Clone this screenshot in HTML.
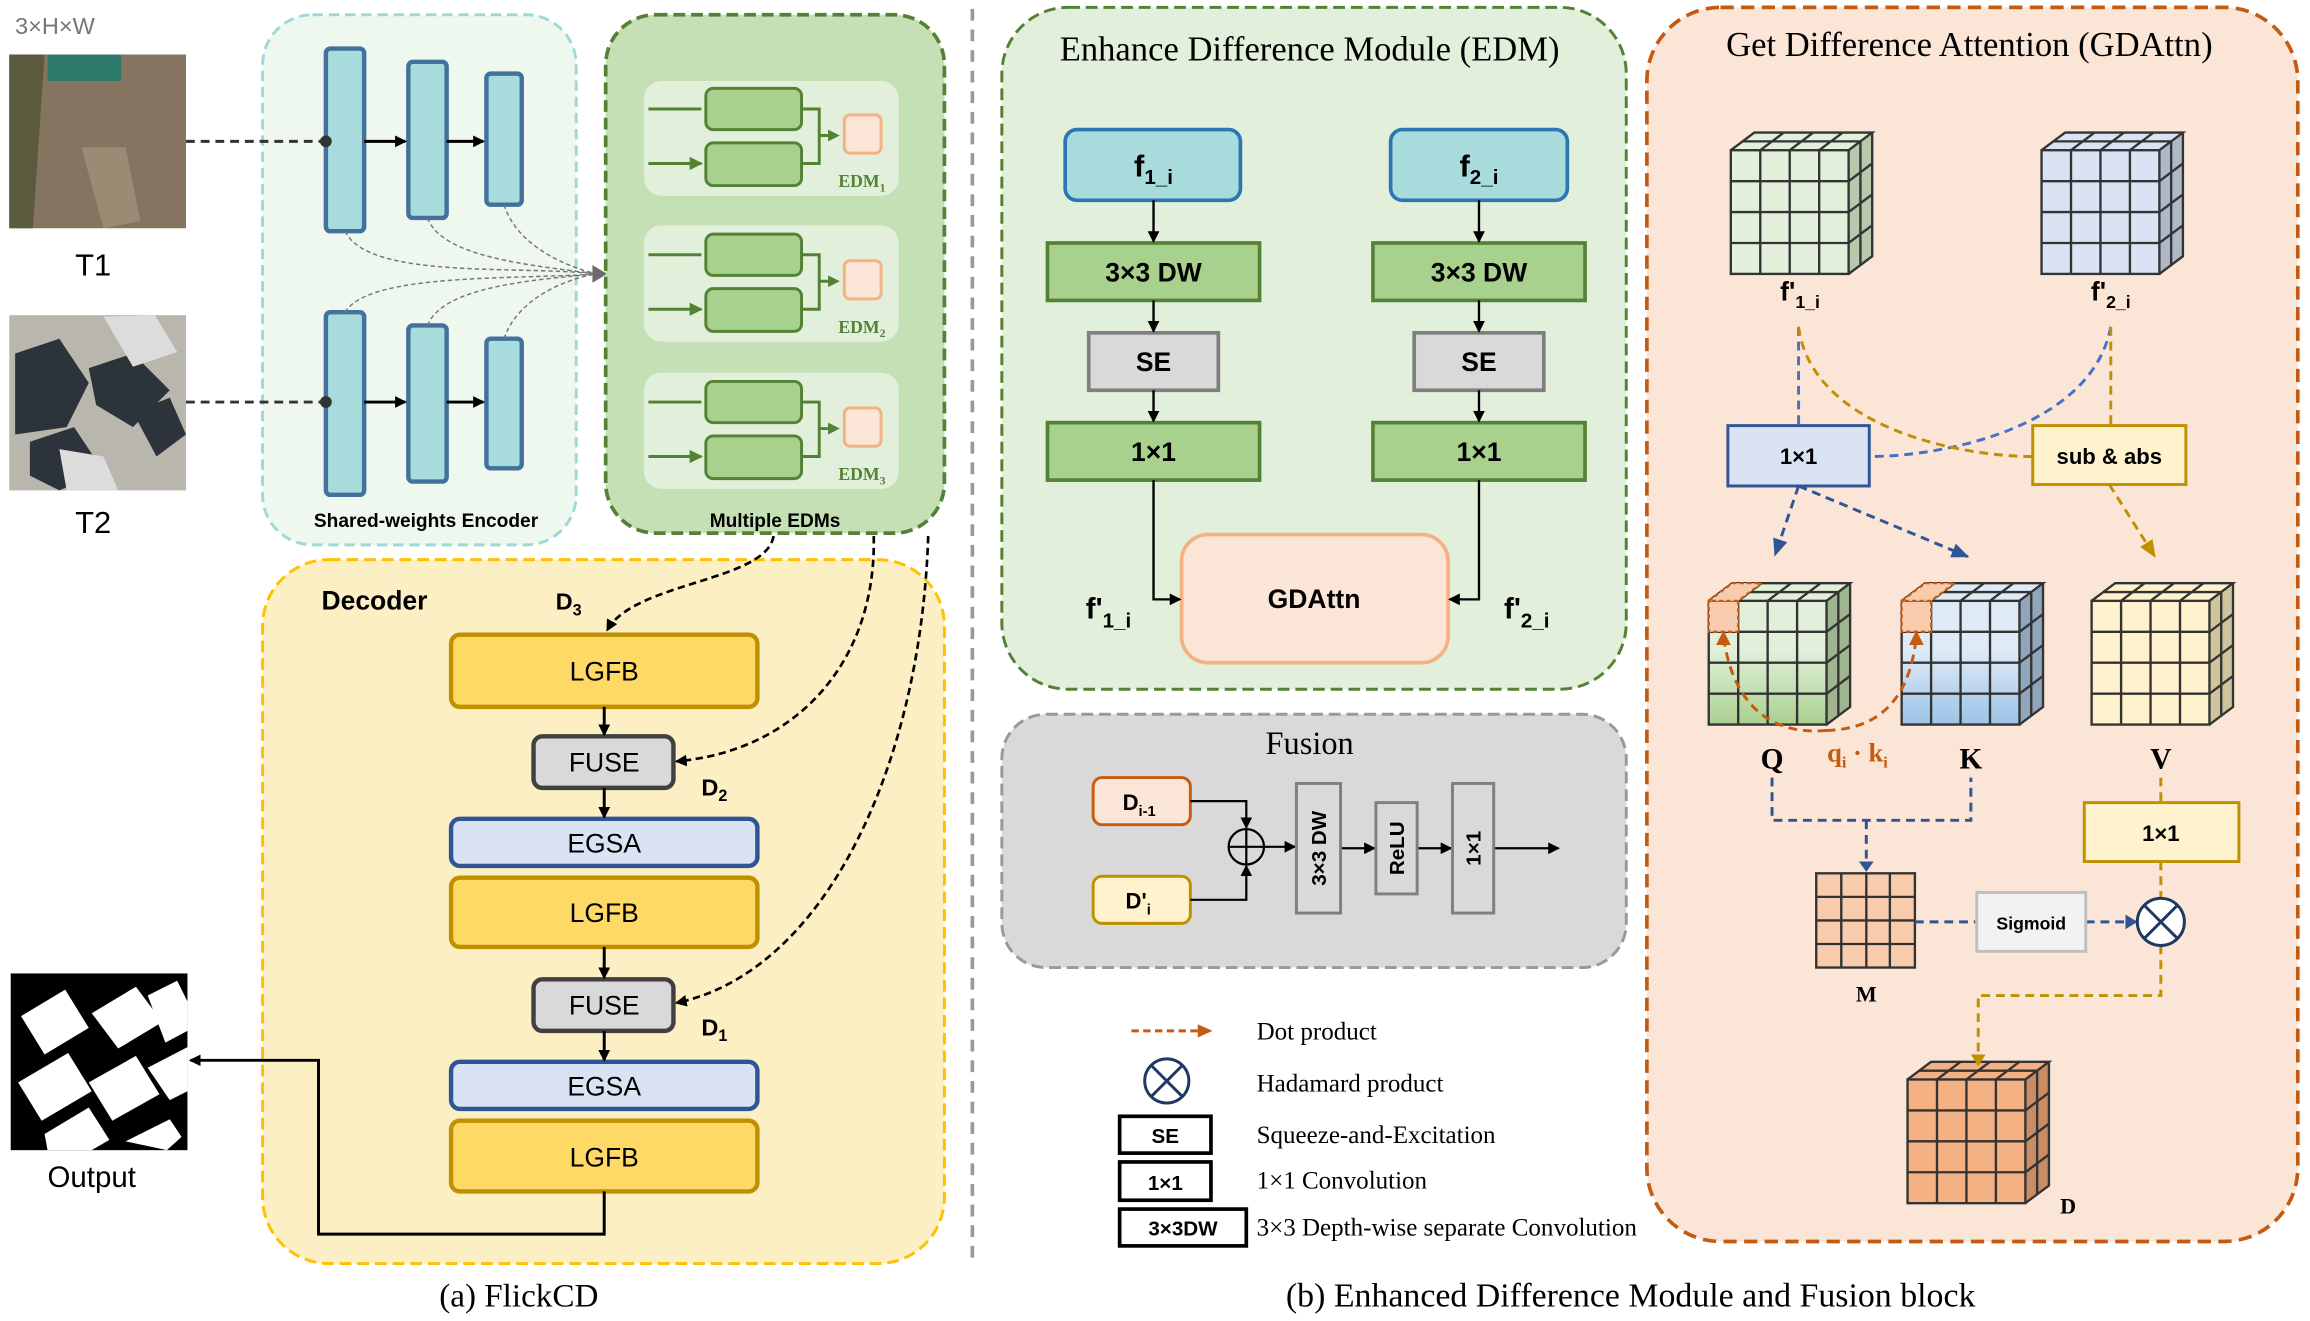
<!DOCTYPE html>
<html><head><meta charset="utf-8"><style>
html,body{margin:0;padding:0;background:#fff}
svg{display:block}
.s{font-family:"Liberation Sans",sans-serif}
.r{font-family:"Liberation Serif",serif}
</style></head><body>
<svg width="2310" height="1321" viewBox="0 0 1568 897" xmlns="http://www.w3.org/2000/svg">
<defs>
<marker id="ab" markerWidth="8" markerHeight="8" refX="7" refY="4" orient="auto" markerUnits="userSpaceOnUse"><path d="M0,0 L8,4 L0,8 z" fill="#000"/></marker>
<marker id="agr" markerWidth="9" markerHeight="9" refX="8" refY="4.5" orient="auto" markerUnits="userSpaceOnUse"><path d="M0,0 L9,4.5 L0,9 z" fill="#548235"/></marker>
<marker id="abl" markerWidth="12" markerHeight="10" refX="11" refY="5" orient="auto" markerUnits="userSpaceOnUse"><path d="M0,0 L12,5 L0,10 z" fill="#2f5597"/></marker>
<marker id="agd" markerWidth="12" markerHeight="10" refX="11" refY="5" orient="auto" markerUnits="userSpaceOnUse"><path d="M0,0 L12,5 L0,10 z" fill="#bf9000"/></marker>
<marker id="aor" markerWidth="10" markerHeight="9" refX="9" refY="4.5" orient="auto" markerUnits="userSpaceOnUse"><path d="M0,0 L10,4.5 L0,9 z" fill="#c55a11"/></marker>
<g id="cg" fill="none" stroke="#333" stroke-width="1.6">
<rect x="0" y="0" width="80" height="84"/>
<path d="M20,0V84M40,0V84M60,0V84M0,21H80M0,42H80M0,63H80"/>
<path d="M0,0L16,-12H96L80,0M20,0L36,-12M40,0L56,-12M60,0L76,-12M8,-6H88"/>
<path d="M96,-12V72L80,84M80,21L96,9M80,42L96,30M80,63L96,51M88,-6V78"/>
</g>
<linearGradient id="gq" x1="0" y1="0" x2="0" y2="1"><stop offset="0.4" stop-color="#e2efda"/><stop offset="1" stop-color="#a9d18e"/></linearGradient>
<linearGradient id="gk" x1="0" y1="0" x2="0" y2="1"><stop offset="0.4" stop-color="#deebf7"/><stop offset="1" stop-color="#9dc3e6"/></linearGradient>
</defs>

<!-- LEFT: inputs -->
<text x="37" y="23" class="s" font-size="16" fill="#777" text-anchor="middle">3×H×W</text>
<rect x="6" y="37" width="120" height="118" fill="#857560"/>
<path d="M6,37 L30,37 L22,155 L6,155z" fill="#5b5a3c"/>
<path d="M32,37 h50 v18 h-50z" fill="#2e7a6a"/>
<path d="M55,100 l30,0 l10,50 l-25,5z" fill="#9a8c74"/>
<rect x="6" y="214" width="120" height="119" fill="#b9b6ae"/>
<path d="M10,240 l30,-10 l20,30 l-15,30 l-35,5z M60,250 l30,-10 l25,25 l-25,25 l-25,-15z M20,300 l30,-10 l20,30 l-30,13 l-20,-10z M90,280 l25,-10 l11,25 l-20,15z" fill="#2d333a"/>
<path d="M70,215 l35,-1 l15,25 l-30,10z M40,305 l30,5 l10,23 l-35,0z" fill="#dcdcdc"/>
<text x="63" y="187" class="s" font-size="21" text-anchor="middle">T1</text>
<text x="63" y="362" class="s" font-size="21" text-anchor="middle">T2</text>
<rect x="7" y="661" width="120" height="120" fill="#000"/>
<g fill="#fff">
<path d="M14,690 l30,-18 l16,26 l-30,18z"/><path d="M62,688 l30,-18 l18,24 l-30,18z"/><path d="M100,676 l20,-10 l7,14 v20 l-15,8z"/>
<path d="M12,735 l34,-20 l16,26 l-34,20z"/><path d="M60,735 l32,-18 l16,26 l-32,18z"/><path d="M100,725 l27,-14 v30 l-12,6z"/>
<path d="M30,770 l30,-18 l14,22 l-12,7 h-30z"/><path d="M85,775 l30,-15 l8,12 l-10,9z"/>
</g>
<text x="62" y="806" class="s" font-size="20" text-anchor="middle">Output</text>

<!-- Encoder -->
<rect x="178" y="10" width="213" height="360" rx="34" fill="#eef8ef" stroke="#9fd8d8" stroke-width="2" stroke-dasharray="7,4"/>
<g fill="#a8dcdc" stroke="#41719c" stroke-width="3">
<rect x="221" y="33" width="26" height="124" rx="3"/><rect x="277" y="42" width="26" height="106" rx="3"/><rect x="330" y="50" width="24" height="89" rx="3"/>
<rect x="221" y="212" width="26" height="124" rx="3"/><rect x="277" y="221" width="26" height="106" rx="3"/><rect x="330" y="230" width="24" height="88" rx="3"/>
</g>
<g stroke="#333" stroke-width="2" stroke-dasharray="6,4" fill="none"><path d="M126,96H221"/><path d="M126,273H221"/></g>
<circle cx="221" cy="96" r="4" fill="#333"/><circle cx="221" cy="273" r="4" fill="#333"/>
<g stroke="#000" stroke-width="2" marker-end="url(#ab)"><path d="M247,96H275"/><path d="M303,96H328"/><path d="M247,273H275"/><path d="M303,273H328"/></g>
<g stroke="#777" stroke-width="1" stroke-dasharray="3,2" fill="none">
<path d="M234,157 C250,190 350,180 405,186"/><path d="M290,148 C300,175 360,180 405,186"/><path d="M342,139 C350,165 380,180 405,186"/>
<path d="M234,212 C250,185 350,190 405,186"/><path d="M290,221 C300,195 360,190 405,186"/><path d="M342,230 C350,205 380,190 405,186"/>
</g>
<path d="M402,180 L412,186 L402,192z" fill="#6b6b6b"/>
<text x="289" y="358" class="s" font-size="13" font-weight="bold" text-anchor="middle">Shared-weights Encoder</text>

<!-- Multiple EDMs -->
<rect x="411" y="10" width="230" height="352" rx="34" fill="#c5e0b4" stroke="#548235" stroke-width="2.5" stroke-dasharray="8,4"/>
<rect x="437" y="55" width="173" height="78" rx="12" fill="#e2efda"/>
<rect x="437" y="153" width="173" height="79" rx="12" fill="#e2efda"/>
<rect x="437" y="253" width="173" height="79" rx="12" fill="#e2efda"/>
<g id="edm">
<rect x="479" y="60" width="65" height="28" rx="5" fill="#a9d18e" stroke="#548235" stroke-width="2"/>
<rect x="479" y="97" width="65" height="29" rx="5" fill="#a9d18e" stroke="#548235" stroke-width="2"/>
<path d="M440,74H476M440,111H476" stroke="#548235" stroke-width="2" marker-end="url(#agr)"/>
<path d="M544,74H556V111H544M556,92H567" stroke="#548235" stroke-width="2" fill="none"/>
<path d="M562,88 L570,92 L562,96z" fill="#548235"/>
<rect x="573" y="78" width="25" height="26" rx="4" fill="#fbe5d6" stroke="#f4b183" stroke-width="2"/>
</g>
<use href="#edm" y="99"/><use href="#edm" y="199"/>
<g class="r" font-size="12" fill="#548235" font-weight="bold">
<text x="569" y="127">EDM<tspan font-size="8" dy="3">1</tspan></text>
<text x="569" y="226">EDM<tspan font-size="8" dy="3">2</tspan></text>
<text x="569" y="326">EDM<tspan font-size="8" dy="3">3</tspan></text>
</g>
<text x="526" y="358" class="s" font-size="13" font-weight="bold" text-anchor="middle">Multiple EDMs</text>

<!-- Decoder -->
<rect x="178" y="380" width="463" height="478" rx="45" fill="#fbefc3" stroke="#ffc000" stroke-width="2" stroke-dasharray="8,4"/>
<text x="218" y="414" class="s" font-size="18" font-weight="bold">Decoder</text>
<text x="377" y="414" class="s" font-size="16" font-weight="bold">D<tspan font-size="11" dy="4">3</tspan></text>
<text x="476" y="540" class="s" font-size="16" font-weight="bold">D<tspan font-size="11" dy="4">2</tspan></text>
<text x="476" y="703" class="s" font-size="16" font-weight="bold">D<tspan font-size="11" dy="4">1</tspan></text>
<g stroke-width="3">
<rect x="306" y="431" width="208" height="49" rx="6" fill="#ffd966" stroke="#bf9000"/>
<rect x="306" y="596" width="208" height="47" rx="6" fill="#ffd966" stroke="#bf9000"/>
<rect x="306" y="761" width="208" height="48" rx="6" fill="#ffd966" stroke="#bf9000"/>
<rect x="362" y="500" width="95" height="35" rx="6" fill="#d9d9d9" stroke="#404040"/>
<rect x="362" y="665" width="95" height="35" rx="6" fill="#d9d9d9" stroke="#404040"/>
<rect x="306" y="556" width="208" height="32" rx="6" fill="#dae3f3" stroke="#2f5597"/>
<rect x="306" y="721" width="208" height="32" rx="6" fill="#dae3f3" stroke="#2f5597"/>
</g>
<g class="s" font-size="18" text-anchor="middle">
<text x="410" y="462">LGFB</text><text x="410" y="626">LGFB</text><text x="410" y="792">LGFB</text>
<text x="410" y="524">FUSE</text><text x="410" y="689">FUSE</text>
<text x="410" y="579">EGSA</text><text x="410" y="744">EGSA</text>
</g>
<g stroke="#000" stroke-width="2" marker-end="url(#ab)">
<path d="M410,480V499"/><path d="M410,535V555"/><path d="M410,643V664"/><path d="M410,700V720"/>
</g>
<path d="M410,809V838H216V720H129" stroke="#000" stroke-width="2" fill="none" marker-end="url(#ab)"/>
<g stroke="#000" stroke-width="1.8" stroke-dasharray="5,3" fill="none" marker-end="url(#ab)">
<path d="M525,364 C520,395 430,395 412,428"/>
<path d="M593,364 C595,450 540,510 459,517"/>
<path d="M630,364 C625,520 560,660 459,681"/>
</g>

<path d="M660,6V860" stroke="#999" stroke-width="2.5" stroke-dasharray="8,6"/>

<!-- EDM -->
<rect x="680" y="5" width="424" height="463" rx="45" fill="#e2efda" stroke="#548235" stroke-width="2" stroke-dasharray="8,4"/>
<text x="889" y="41" class="r" font-size="23.5" text-anchor="middle">Enhance Difference Module (EDM)</text>
<g stroke-width="2.5">
<rect x="723" y="88" width="119" height="48" rx="8" fill="#a8dcdc" stroke="#2e75b6"/>
<rect x="944" y="88" width="120" height="48" rx="8" fill="#a8dcdc" stroke="#2e75b6"/>
<rect x="711" y="165" width="144" height="39" fill="#a9d18e" stroke="#548235"/>
<rect x="932" y="165" width="144" height="39" fill="#a9d18e" stroke="#548235"/>
<rect x="739" y="226" width="88" height="39" fill="#d9d9d9" stroke="#7f7f7f"/>
<rect x="960" y="226" width="88" height="39" fill="#d9d9d9" stroke="#7f7f7f"/>
<rect x="711" y="287" width="144" height="39" fill="#a9d18e" stroke="#548235"/>
<rect x="932" y="287" width="144" height="39" fill="#a9d18e" stroke="#548235"/>
<rect x="802" y="363" width="181" height="87" rx="18" fill="#fbe5d6" stroke="#f4b183"/>
</g>
<g class="s" font-weight="bold" text-anchor="middle" font-size="18">
<text x="783" y="120" font-size="21">f<tspan font-size="14" dy="5">1_i</tspan></text>
<text x="1004" y="120" font-size="21">f<tspan font-size="14" dy="5">2_i</tspan></text>
<text x="783" y="191">3×3 DW</text><text x="1004" y="191">3×3 DW</text>
<text x="783" y="252">SE</text><text x="1004" y="252">SE</text>
<text x="783" y="313">1×1</text><text x="1004" y="313">1×1</text>
<text x="892" y="413">GDAttn</text>
</g>
<text x="737" y="420" class="s" font-weight="bold" font-size="20">f'<tspan font-size="14" dy="6">1_i</tspan></text>
<text x="1021" y="420" class="s" font-weight="bold" font-size="20">f'<tspan font-size="14" dy="6">2_i</tspan></text>
<g stroke="#000" stroke-width="1.6" fill="none" marker-end="url(#ab)">
<path d="M783,136V164"/><path d="M783,204V225"/><path d="M783,265V286"/>
<path d="M1004,136V164"/><path d="M1004,204V225"/><path d="M1004,265V286"/>
<path d="M783,326V407H801"/><path d="M1004,326V407H984"/>
</g>

<!-- Fusion -->
<rect x="680" y="485" width="424" height="172" rx="30" fill="#d9d9d9" stroke="#999" stroke-width="2" stroke-dasharray="8,4"/>
<text x="889" y="512" class="r" font-size="22" text-anchor="middle">Fusion</text>
<rect x="742" y="528" width="66" height="32" rx="6" fill="#fbe5d6" stroke="#c55a11" stroke-width="2"/>
<rect x="742" y="595" width="66" height="32" rx="6" fill="#fff2cc" stroke="#bf9000" stroke-width="2"/>
<text x="762" y="550" class="s" font-size="15" font-weight="bold">D<tspan font-size="10" dy="4">i-1</tspan></text>
<text x="764" y="617" class="s" font-size="15" font-weight="bold">D'<tspan font-size="10" dy="4">i</tspan></text>
<circle cx="846" cy="575" r="12" fill="none" stroke="#000" stroke-width="1.5"/>
<path d="M834,575H858M846,563V587" stroke="#000" stroke-width="1.5"/>
<g stroke="#000" stroke-width="1.5" fill="none" marker-end="url(#ab)">
<path d="M808,544H846V562"/><path d="M808,611H846V588"/><path d="M858,575H879"/><path d="M910,576H933"/><path d="M962,576H985"/><path d="M1014,576H1058"/>
</g>
<g fill="#d9d9d9" stroke="#7f7f7f" stroke-width="2">
<rect x="880" y="532" width="30" height="88"/><rect x="934" y="545" width="28" height="62"/><rect x="986" y="532" width="28" height="88"/>
</g>
<g class="s" font-weight="bold" font-size="14" text-anchor="middle">
<text transform="translate(900,576) rotate(-90)">3×3 DW</text>
<text transform="translate(953,576) rotate(-90)">ReLU</text>
<text transform="translate(1005,576) rotate(-90)">1×1</text>
</g>

<!-- Legend -->
<path d="M768,700H822" stroke="#c55a11" stroke-width="2" stroke-dasharray="5,3" marker-end="url(#aor)"/>
<circle cx="792" cy="734" r="15" fill="none" stroke="#1f3864" stroke-width="2"/>
<path d="M781,723L803,745M803,723L781,745" stroke="#1f3864" stroke-width="2"/>
<g fill="#fff" stroke="#000" stroke-width="2.5">
<rect x="760" y="758" width="62" height="25"/><rect x="760" y="789" width="62" height="26"/><rect x="760" y="821" width="86" height="25"/>
</g>
<g class="s" font-weight="bold" font-size="14" text-anchor="middle">
<text x="791" y="776">SE</text><text x="791" y="808">1×1</text><text x="803" y="839">3×3DW</text>
</g>
<g class="r" font-size="17">
<text x="853" y="706">Dot product</text><text x="853" y="741">Hadamard product</text>
<text x="853" y="776">Squeeze-and-Excitation</text><text x="853" y="807">1×1 Convolution</text>
<text x="853" y="839">3×3 Depth-wise separate Convolution</text>
</g>

<!-- GDAttn -->
<rect x="1118" y="5" width="442" height="838" rx="50" fill="#fbe5d6" stroke="#c55a11" stroke-width="2.5" stroke-dasharray="9,5"/>
<text x="1337" y="38" class="r" font-size="23.5" text-anchor="middle">Get Difference Attention (GDAttn)</text>
<g transform="translate(1175,102)">
<rect width="80" height="84" fill="#e2efda"/><path d="M0,0L16,-12H96L80,0z" fill="#e2efda"/><path d="M80,0L96,-12V72L80,84z" fill="#b7c9ab"/>
<use href="#cg"/></g>
<g transform="translate(1386,102)">
<rect width="80" height="84" fill="#dae3f3"/><path d="M0,0L16,-12H96L80,0z" fill="#dae3f3"/><path d="M80,0L96,-12V72L80,84z" fill="#aeb8c8"/>
<use href="#cg"/></g>
<g transform="translate(1160,408)">
<rect width="80" height="84" fill="url(#gq)"/><path d="M0,0L16,-12H96L80,0z" fill="#e2efda"/><path d="M80,0L96,-12V72L80,84z" fill="#9fb58f"/>
<use href="#cg"/>
<rect width="20" height="21" fill="#f8cbad" stroke="#c55a11" stroke-width="1.5" stroke-dasharray="3,2"/>
<path d="M0,0L16,-12H36L20,0z" fill="#f8cbad" stroke="#c55a11" stroke-width="1.5" stroke-dasharray="3,2"/></g>
<g transform="translate(1291,408)">
<rect width="80" height="84" fill="url(#gk)"/><path d="M0,0L16,-12H96L80,0z" fill="#deebf7"/><path d="M80,0L96,-12V72L80,84z" fill="#8fa6bd"/>
<use href="#cg"/>
<rect width="20" height="21" fill="#f8cbad" stroke="#c55a11" stroke-width="1.5" stroke-dasharray="3,2"/>
<path d="M0,0L16,-12H36L20,0z" fill="#f8cbad" stroke="#c55a11" stroke-width="1.5" stroke-dasharray="3,2"/></g>
<g transform="translate(1420,408)">
<rect width="80" height="84" fill="#fff2cc"/><path d="M0,0L16,-12H96L80,0z" fill="#fff2cc"/><path d="M80,0L96,-12V72L80,84z" fill="#cfc59d"/>
<use href="#cg"/></g>
<g transform="translate(1295,733)">
<rect width="80" height="84" fill="#f4b183"/><path d="M0,0L16,-12H96L80,0z" fill="#f4b183"/><path d="M80,0L96,-12V72L80,84z" fill="#c98d66"/>
<use href="#cg"/></g>
<g fill="#f8cbad" stroke="#333" stroke-width="1.6">
<rect x="1233" y="593" width="67" height="64"/>
<path d="M1250,593V657M1267,593V657M1283,593V657M1233,609H1300M1233,625H1300M1233,641H1300" fill="none"/>
</g>
<g class="s" font-weight="bold" font-size="18" text-anchor="middle">
<text x="1222" y="204">f'<tspan font-size="12" dy="5">1_i</tspan></text>
<text x="1433" y="204">f'<tspan font-size="12" dy="5">2_i</tspan></text>
</g>
<rect x="1173" y="289" width="96" height="41" fill="#dae3f3" stroke="#2f5597" stroke-width="2"/>
<rect x="1380" y="289" width="104" height="40" fill="#fff2cc" stroke="#bf9000" stroke-width="2"/>
<text x="1221" y="315" class="s" font-weight="bold" font-size="15" text-anchor="middle">1×1</text>
<text x="1432" y="315" class="s" font-weight="bold" font-size="15" text-anchor="middle">sub &amp; abs</text>
<g fill="none" stroke-width="2" stroke-dasharray="6,4">
<path d="M1221,222V289" stroke="#4472c4"/>
<path d="M1433,222C1420,290 1320,310 1269,310" stroke="#4472c4"/>
<path d="M1221,222C1230,290 1330,310 1380,310" stroke="#bf9000"/>
<path d="M1433,222V289" stroke="#bf9000"/>
<path d="M1221,330L1205,377" stroke="#2f5597" marker-end="url(#abl)"/>
<path d="M1221,330L1336,378" stroke="#2f5597" marker-end="url(#abl)"/>
<path d="M1432,329L1463,378" stroke="#bf9000" marker-end="url(#agd)"/>
<path d="M1203,528V557H1338V528M1267,557V589" stroke="#2f5597"/>
<path d="M1300,626H1341M1416,626H1450" stroke="#2f5597"/>
<path d="M1467,528V545M1467,585V610M1467,642V676H1343V722" stroke="#bf9000"/>
<path d="M1240,496C1195,500 1175,470 1170,432" stroke="#c55a11"/>
<path d="M1240,496C1280,495 1297,470 1301,432" stroke="#c55a11"/>
</g>
<path d="M1262,585L1267,592L1272,585z" fill="#2f5597"/>
<path d="M1443,621L1451,626L1443,631z" fill="#2f5597"/>
<path d="M1338,716L1343,724L1348,716z" fill="#bf9000"/>
<path d="M1165,438L1170,428L1175,438z" fill="#c55a11"/>
<path d="M1296,438L1301,428L1306,438z" fill="#c55a11"/>
<g class="r" font-weight="bold" font-size="20" text-anchor="middle">
<text x="1203" y="522">Q</text><text x="1338" y="522">K</text><text x="1467" y="522">V</text>
<text x="1261" y="517" fill="#c55a11" font-size="18">q<tspan font-size="11" dy="4">i</tspan><tspan dy="-4"> · k</tspan><tspan font-size="11" dy="4">i</tspan></text>
<text x="1267" y="680" font-size="15">M</text><text x="1404" y="824" font-size="15">D</text>
</g>
<rect x="1415" y="545" width="105" height="40" fill="#fff2cc" stroke="#bf9000" stroke-width="2"/>
<text x="1467" y="571" class="s" font-weight="bold" font-size="15" text-anchor="middle">1×1</text>
<rect x="1342" y="606" width="74" height="40" fill="#f2f2f2" stroke="#bfbfbf" stroke-width="2"/>
<text x="1379" y="631" class="s" font-weight="bold" font-size="12" text-anchor="middle">Sigmoid</text>
<circle cx="1467" cy="626" r="16" fill="#fff" stroke="#1f3864" stroke-width="2"/>
<path d="M1456,615L1478,637M1478,615L1456,637" stroke="#1f3864" stroke-width="2"/>

<text x="352" y="887" class="r" font-size="22.5" text-anchor="middle">(a) FlickCD</text>
<text x="1107" y="887" class="r" font-size="23" text-anchor="middle">(b) Enhanced Difference Module and Fusion block</text>
</svg>
</body></html>
